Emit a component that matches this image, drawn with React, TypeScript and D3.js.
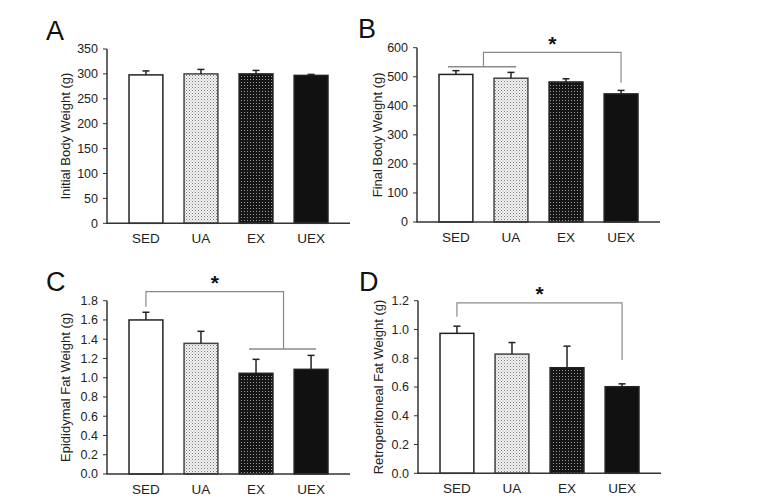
import React from "react";
import * as d3 from "d3";

const categories = ["SED", "UA", "EX", "UEX"];

const initialWeight = [298, 300, 300, 297];
const initialErr = [8, 9, 7, 2];

const finalWeight = [508, 495, 482, 441];
const finalErr = [13, 20, 11, 12];

const epididymal = [1.6, 1.357, 1.046, 1.087];
const epididymalErr = [0.08, 0.125, 0.145, 0.145];

const retro = [0.973, 0.829, 0.734, 0.602];
const retroErr = [0.05, 0.08, 0.15, 0.02];

const ticksA = [0, 50, 100, 150, 200, 250, 300, 350];
const ticksB = [0, 100, 200, 300, 400, 500, 600];
const ticksC = [0, 0.2, 0.4, 0.6, 0.8, 1.0, 1.2, 1.4, 1.6, 1.8];
const ticksD = [0, 0.2, 0.4, 0.6, 0.8, 1.0, 1.2];

type Bracket = {
  left: string[];
  right: string[];
  leftLow: number;
  rightLow: number;
  top: number;
};

type PanelCfg = {
  letter: string;
  yLabel: string;
  values: number[];
  errs: number[];
  ticks: number[];
  fmt: (v: number) => string;
  axisX: number;
  yTop: number;
  yBottom: number;
  bracket?: Bracket;
};

const fills: Record<string, string> = {
  SED: "#ffffff",
  UA: "url(#patUA)",
  EX: "url(#patEX)",
  UEX: "#111111",
};

function Panel({ cfg }: { cfg: PanelCfg }) {
  const x = d3
    .scaleBand<string>()
    .domain(categories)
    .range([cfg.axisX, cfg.axisX + 243])
    .paddingInner(0.385)
    .paddingOuter(0.4);
  const maxV = cfg.ticks[cfg.ticks.length - 1];
  const y = d3.scaleLinear().domain([0, maxV]).range([cfg.yBottom, cfg.yTop]);
  const bw = x.bandwidth();
  const cx = (c: string) => (x(c) as number) + bw / 2;
  const mid = (cfg.yTop + cfg.yBottom) / 2;

  let bracketEls: React.ReactNode = null;
  if (cfg.bracket) {
    const b = cfg.bracket;
    const gray = "#8a8a8a";
    let lx: number, rx: number;
    const els: React.ReactNode[] = [];
    if (b.left.length > 1) {
      const a = cx(b.left[0]) - 8;
      const e = cx(b.left[b.left.length - 1]) + 5;
      lx = (cx(b.left[0]) + cx(b.left[b.left.length - 1])) / 2;
      els.push(<line key="lg" x1={a} x2={e} y1={y(b.leftLow)} y2={y(b.leftLow)} stroke={gray} strokeWidth={1.5} />);
    } else {
      lx = cx(b.left[0]);
    }
    if (b.right.length > 1) {
      const a = cx(b.right[0]) - 7;
      const e = cx(b.right[b.right.length - 1]) + 5;
      rx = (cx(b.right[0]) + cx(b.right[b.right.length - 1])) / 2;
      els.push(<line key="rg" x1={a} x2={e} y1={y(b.rightLow)} y2={y(b.rightLow)} stroke={gray} strokeWidth={1.5} />);
    } else {
      rx = cx(b.right[0]);
    }
    els.push(
      <path
        key="br"
        d={`M${lx},${y(b.leftLow)}V${y(b.top)}H${rx}V${y(b.rightLow)}`}
        fill="none"
        stroke={gray}
        strokeWidth={1.2}
      />
    );
    els.push(
      <text key="st" x={(lx + rx) / 2} y={y(b.top) - 1.5} textAnchor="middle" fontSize={21} fontWeight="bold" fill="#111">
        *
      </text>
    );
    bracketEls = els;
  }

  return (
    <g fontFamily="'Liberation Sans', Arial, sans-serif">
      <text
        x={cfg.axisX - (cfg.axisX < 200 ? 61 : 59)}
        y={cfg.yTop - 9.5}
        fontSize={27}
        fill="#111"
      >
        {cfg.letter}
      </text>
      {categories.map((c, i) => (
        <g key={c}>
          <rect
            x={x(c)}
            y={y(cfg.values[i])}
            width={bw}
            height={cfg.yBottom - y(cfg.values[i])}
            fill={fills[c]}
            stroke={c === "UA" ? "#444" : "#222"}
            strokeWidth={1.5}
          />
          <line
            x1={cx(c)}
            x2={cx(c)}
            y1={y(cfg.values[i])}
            y2={y(cfg.values[i] + cfg.errs[i])}
            stroke="#222"
            strokeWidth={1.5}
          />
          <line
            x1={cx(c) - 3.5}
            x2={cx(c) + 3.5}
            y1={y(cfg.values[i] + cfg.errs[i])}
            y2={y(cfg.values[i] + cfg.errs[i])}
            stroke="#222"
            strokeWidth={1.5}
          />
          <text x={cx(c)} y={cfg.yBottom + 20} textAnchor="middle" fontSize={13.5} fill="#222">
            {c}
          </text>
        </g>
      ))}
      <line x1={cfg.axisX} x2={cfg.axisX} y1={cfg.yTop} y2={cfg.yBottom} stroke="#333" strokeWidth={1.5} />
      <line x1={cfg.axisX - 0.75} x2={cfg.axisX + 243} y1={cfg.yBottom} y2={cfg.yBottom} stroke="#333" strokeWidth={1.5} />
      {cfg.ticks.map((t) => (
        <g key={t}>
          <line x1={cfg.axisX - 4} x2={cfg.axisX} y1={y(t)} y2={y(t)} stroke="#333" strokeWidth={1} />
          <text x={cfg.axisX - 9} y={y(t)} dy="0.35em" textAnchor="end" fontSize={12.5} fill="#222">
            {cfg.fmt(t)}
          </text>
        </g>
      ))}
      <text
        transform={`translate(${cfg.axisX - (cfg.axisX < 200 ? 42 : 40)},${mid}) rotate(-90)`}
        textAnchor="middle"
        dy="0.35em"
        fontSize={13}
        fill="#222"
      >
        {cfg.yLabel}
      </text>
      {bracketEls}
    </g>
  );
}

const panels: PanelCfg[] = [
  {
    letter: "A",
    yLabel: "Initial Body Weight (g)",
    values: initialWeight,
    errs: initialErr,
    ticks: ticksA,
    fmt: (v) => String(v),
    axisX: 107,
    yTop: 49,
    yBottom: 223.3,
  },
  {
    letter: "B",
    yLabel: "Final Body Weight (g)",
    values: finalWeight,
    errs: finalErr,
    ticks: ticksB,
    fmt: (v) => String(v),
    axisX: 417,
    yTop: 47.7,
    yBottom: 222,
    bracket: { left: ["SED", "UA"], right: ["UEX"], leftLow: 534.6, rightLow: 479.5, top: 584 },
  },
  {
    letter: "C",
    yLabel: "Epididymal Fat Weight (g)",
    values: epididymal,
    errs: epididymalErr,
    ticks: ticksC,
    fmt: (v) => v.toFixed(1),
    axisX: 107,
    yTop: 300.7,
    yBottom: 474,
    bracket: { left: ["SED"], right: ["EX", "UEX"], leftLow: 1.738, rightLow: 1.298, top: 1.894 },
  },
  {
    letter: "D",
    yLabel: "Retroperitoneal Fat Weight (g)",
    values: retro,
    errs: retroErr,
    ticks: ticksD,
    fmt: (v) => v.toFixed(1),
    axisX: 418,
    yTop: 300.7,
    yBottom: 473.3,
    bracket: { left: ["SED"], right: ["UEX"], leftLow: 1.088, rightLow: 0.787, top: 1.185 },
  },
];

export default function App() {
  return (
    <svg
      width={765}
      height={504}
      style={{ position: "absolute", left: 0, top: 0, background: "#fff" }}
    >
      <defs>
        <pattern id="patUA" width={3} height={3} patternUnits="userSpaceOnUse">
          <rect width={3} height={3} fill="#f2f2f2" />
          <rect x={0} y={0} width={1} height={1} fill="#7a7a7a" />
          <rect x={1.5} y={1.5} width={1} height={1} fill="#a8a8a8" />
        </pattern>
        <pattern id="patEX" width={3} height={3} patternUnits="userSpaceOnUse">
          <rect width={3} height={3} fill="#151515" />
          <rect x={1} y={1} width={1} height={1} fill="#9a9a9a" />
        </pattern>
      </defs>
      <rect width={765} height={504} fill="#fff" />
      {panels.map((p) => (
        <Panel key={p.letter} cfg={p} />
      ))}
    </svg>
  );
}
